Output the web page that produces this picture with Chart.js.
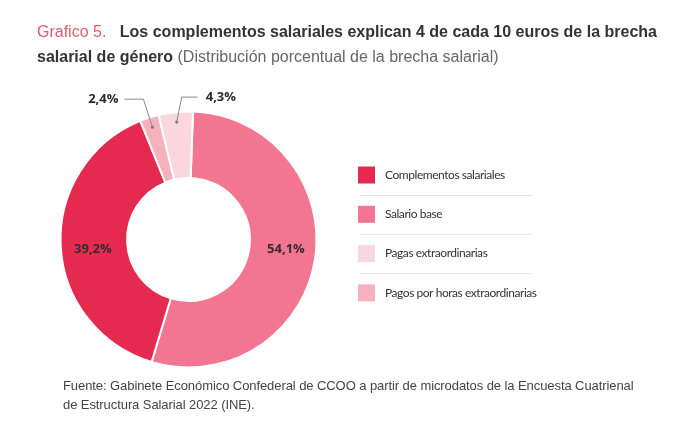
<!DOCTYPE html>
<html>
<head>
<meta charset="utf-8">
<script src="https://cdn.jsdelivr.net/npm/chart.js@4.4.1/dist/chart.umd.min.js"></script>
<style>
  html,body{margin:0;padding:0;background:#fff;}
  #wrap{position:relative;width:680px;height:440px;overflow:hidden;}
  #c{position:absolute;left:0;top:0;}
  #title{position:absolute;left:37px;top:19px;font-family:"Liberation Sans",Arial,sans-serif;font-size:16px;line-height:25px;color:#333;white-space:nowrap;}
  #title .g{color:#e05a6e;margin-right:9px;}
  #title b{color:#333;}
  #title .s{color:#666;}
  #foot{position:absolute;left:63px;top:376px;font-family:"Liberation Sans",Arial,sans-serif;font-size:13px;line-height:19px;color:#444;white-space:nowrap;letter-spacing:-0.08px;}
</style>
</head>
<body>
<div id="wrap">
  <canvas id="c" width="680" height="440"></canvas>
  <div id="title"><span class="g">Grafico 5.</span> <b>Los complementos salariales explican 4 de cada 10 euros de la brecha</b><br><b>salarial de género</b> <span class="s">(Distribución porcentual de la brecha salarial)</span></div>
  <div id="foot">Fuente: Gabinete Económico Confederal de CCOO a partir de microdatos de la Encuesta Cuatrienal<br>de Estructura Salarial 2022 (INE).</div>
</div>
<script>
// ---- data ----
const categories = ['Salario base', 'Complementos salariales', 'Pagos por horas extraordinarias', 'Pagas extraordinarias'];
const values = [54.1, 39.2, 2.4, 4.3];
const valueLabels = ['54,1%', '39,2%', '2,4%', '4,3%'];
const legendOrder = [1, 0, 3, 2];

// ---- styles ----
const colors = ['#f27692', '#e6294f', '#f6b1bf', '#fad7de'];
// nudges for the in-ring labels (pixels)
const innerNudge = {0: [4, -6], 1: [-1, 5]};
// leader-line style for the small slices (pixel offsets from the slice anchor)
const leaderStyle = {
  2: {elbowDx: -9, elbowDy: -28, lineDx: -19, gap: 6, side: 'left'},
  3: {elbowDx: 5, elbowDy: -25, lineDx: 16, gap: 8, side: 'right'}
};

const labelPlugin = {
  id: 'sliceLabels',
  afterDatasetsDraw(chart) {
    const ctx = chart.ctx;
    const meta = chart.getDatasetMeta(0);
    ctx.save();
    meta.data.forEach((arc, i) => {
      const p = arc.getProps(['x','y','startAngle','endAngle','innerRadius','outerRadius'], true);
      const mid = (p.startAngle + p.endAngle) / 2;
      const style = leaderStyle[i];
      if (!style) {
        const r = (p.innerRadius + p.outerRadius) / 2;
        const n = innerNudge[i] || [0, 0];
        const lx = p.x + Math.cos(mid) * r + n[0];
        const ly = p.y + Math.sin(mid) * r + n[1];
        ctx.font = 'bold 13px "Open Sans", sans-serif';
        ctx.fillStyle = '#3b2a2e';
        ctx.textAlign = 'center';
        ctx.textBaseline = 'middle';
        ctx.fillText(valueLabels[i], lx, ly);
      } else {
        const r = p.outerRadius - 10;
        const ax = p.x + Math.cos(mid) * r;
        const ay = p.y + Math.sin(mid) * r;
        const ex = ax + style.elbowDx, ey = ay + style.elbowDy;
        const tx = ex + style.lineDx;
        ctx.strokeStyle = '#8a8a8a';
        ctx.lineWidth = 1;
        ctx.beginPath();
        ctx.moveTo(ax, ay);
        ctx.lineTo(ex, ey);
        ctx.lineTo(tx, ey);
        ctx.stroke();
        ctx.fillStyle = '#8a7a7e';
        ctx.beginPath();
        ctx.arc(ax, ay, 1.6, 0, Math.PI * 2);
        ctx.fill();
        ctx.font = 'bold 13px "Open Sans", sans-serif';
        ctx.fillStyle = '#2b2b2b';
        ctx.textBaseline = 'middle';
        if (style.side === 'left') {
          ctx.textAlign = 'right';
          ctx.fillText(valueLabels[i], tx - style.gap, ey);
        } else {
          ctx.textAlign = 'left';
          ctx.fillText(valueLabels[i], tx + style.gap, ey);
        }
      }
    });
    ctx.restore();
  }
};

const legendPlugin = {
  id: 'sideLegend',
  afterDraw(chart) {
    const ctx = chart.ctx;
    const x0 = 358, y0 = 175, step = 39.3, box = 17;
    ctx.save();
    legendOrder.forEach((idx, k) => {
      const cy = y0 + k * step;
      ctx.fillStyle = chart.data.datasets[0].backgroundColor[idx];
      ctx.fillRect(x0, cy - box / 2, box, box);
      ctx.font = '12px Lato, sans-serif';
      if ('letterSpacing' in ctx) ctx.letterSpacing = '-0.45px';
      ctx.fillStyle = '#333';
      ctx.textAlign = 'left';
      ctx.textBaseline = 'middle';
      ctx.fillText(chart.data.labels[idx], x0 + 27, cy);
      if ('letterSpacing' in ctx) ctx.letterSpacing = '0px';
      if (k < legendOrder.length - 1) {
        ctx.strokeStyle = '#e6e6e6';
        ctx.lineWidth = 1;
        ctx.beginPath();
        ctx.moveTo(x0 + 2, Math.round(cy + step / 2) + 0.5);
        ctx.lineTo(532, Math.round(cy + step / 2) + 0.5);
        ctx.stroke();
      }
    });
    ctx.restore();
  }
};

new Chart(document.getElementById('c'), {
  type: 'doughnut',
  data: {
    labels: categories,
    datasets: [{
      data: values,
      backgroundColor: colors,
      borderColor: '#ffffff',
      borderWidth: 2
    }]
  },
  options: {
    responsive: false,
    animation: false,
    rotation: 2,
    cutout: '48%',
    layout: {padding: {left: 59.5, top: 110.5, right: 362.5, bottom: 71.5}},
    plugins: {legend: {display: false}, tooltip: {enabled: false}}
  },
  plugins: [labelPlugin, legendPlugin]
});
</script>
</body>
</html>
